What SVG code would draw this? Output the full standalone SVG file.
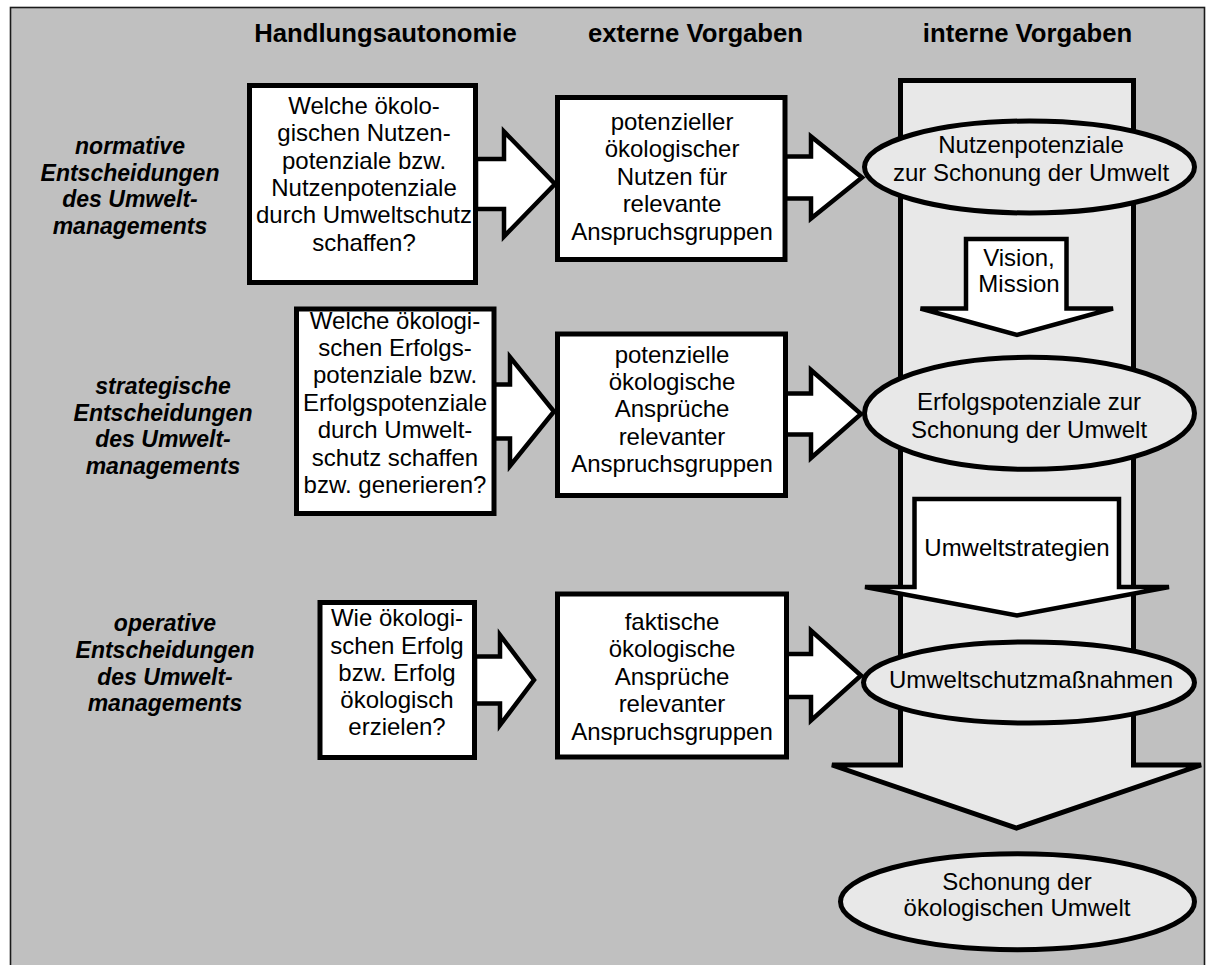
<svg xmlns="http://www.w3.org/2000/svg" width="1215" height="965" viewBox="0 0 1215 965">
  <style>
    .frame { fill: #c0c0c0; stroke: #1a1a1a; stroke-width: 1.6; }
    .box { fill: #ffffff; stroke: #000000; stroke-width: 5; }
    .ell { fill: #e8e8e8; stroke: #000000; stroke-width: 5; }
    .col { fill: #e8e8e8; stroke: #000000; stroke-width: 5; stroke-linejoin: miter; }
    .arrow { fill: #ffffff; stroke: #000000; stroke-width: 4.5; stroke-linejoin: miter; }
    text { font-family: "Liberation Sans", Arial, sans-serif; fill: #000000; text-anchor: middle; }
    .t { font-size: 24px; }
    .h { font-size: 25.7px; font-weight: bold; }
    .lbl { font-size: 23px; font-weight: bold; font-style: italic; }
  </style>

  <!-- background panel -->
  <rect class="frame" x="10.5" y="7.5" width="1194" height="970"/>

  <!-- column headings -->
  <g id="headings">
    <text class="h" x="385.5" y="42">Handlungsautonomie</text>
    <text class="h" x="695.5" y="42">externe Vorgaben</text>
    <text class="h" x="1027.5" y="42">interne Vorgaben</text>
  </g>

  <!-- row labels -->
  <g id="label-normativ">
    <text class="lbl" x="130" y="154">normative</text>
    <text class="lbl" x="130" y="180.7">Entscheidungen</text>
    <text class="lbl" x="130" y="207.3">des Umwelt-</text>
    <text class="lbl" x="130" y="234">managements</text>
  </g>
  <g id="label-strategisch">
    <text class="lbl" x="163" y="394">strategische</text>
    <text class="lbl" x="163" y="420.7">Entscheidungen</text>
    <text class="lbl" x="163" y="447.3">des Umwelt-</text>
    <text class="lbl" x="163" y="474">managements</text>
  </g>
  <g id="label-operativ">
    <text class="lbl" x="165" y="631">operative</text>
    <text class="lbl" x="165" y="658">Entscheidungen</text>
    <text class="lbl" x="165" y="684.7">des Umwelt-</text>
    <text class="lbl" x="165" y="711.3">managements</text>
  </g>

  <!-- large downward arrow carrying the internal targets -->
  <g id="interne-vorgaben">
    <polygon class="col" points="900.5,80.5 1133.5,80.5 1133.5,765 1201,765 1016.5,828 832,765 900.5,765"/>
  </g>

  <!-- block arrows -->
  <g id="connectors">
    <polygon id="pfeil-n1" class="arrow" points="476,159 504,159 504,131.5 555,184 504,236.5 504,209 476,209"/>
    <polygon id="pfeil-n2" class="arrow" points="785,156.5 811,156.5 811,136.5 862,177.5 811,218.5 811,198.5 785,198.5"/>
    <polygon id="pfeil-s1" class="arrow" points="494,384.5 510,384.5 510,357 554,411.5 510,466 510,438.5 494,438.5"/>
    <polygon id="pfeil-s2" class="arrow" points="785,393.5 811,393.5 811,370 861,414 811,458 811,434.5 785,434.5"/>
    <polygon id="pfeil-o1" class="arrow" points="475,656.5 500,656.5 500,635 534,680 500,725 500,703.5 475,703.5"/>
    <polygon id="pfeil-o2" class="arrow" points="786,654 811,654 811,630.5 861,675.5 811,720.5 811,697 786,697"/>
    <g id="pfeil-vision">
      <polygon class="arrow" points="966,239 1066.5,239 1066.5,308.5 1113,308.5 1017,335 920.5,308.5 966,308.5"/>
      <text class="t" x="1019" y="266.3">Vision,</text>
      <text class="t" x="1019" y="292">Mission</text>
    </g>
    <g id="pfeil-strategien">
      <polygon class="arrow" points="914.5,499 1119,499 1119,587 1169,587 1017,615.5 865,587 914.5,587"/>
      <text class="t" x="1017" y="556.3">Umweltstrategien</text>
    </g>
  </g>

  <!-- Handlungsautonomie -->
  <g id="frage-normativ">
    <rect class="box" x="249.5" y="85.5" width="226" height="197"/>
    <text class="t" x="364" y="114">Welche ökolo-</text>
    <text class="t" x="364" y="141.3">gischen Nutzen-</text>
    <text class="t" x="364" y="168.6">potenziale bzw.</text>
    <text class="t" x="364" y="195.9">Nutzenpotenziale</text>
    <text class="t" x="364" y="223.2">durch Umweltschutz</text>
    <text class="t" x="364" y="250.5">schaffen?</text>
  </g>
  <g id="frage-strategisch">
    <rect class="box" x="296.5" y="309" width="197.5" height="204.5"/>
    <text class="t" x="395" y="328.5">Welche ökologi-</text>
    <text class="t" x="395" y="355.9">schen Erfolgs-</text>
    <text class="t" x="395" y="383.3">potenziale bzw.</text>
    <text class="t" x="395" y="410.7">Erfolgspotenziale</text>
    <text class="t" x="395" y="438.1">durch Umwelt-</text>
    <text class="t" x="395" y="465.5">schutz schaffen</text>
    <text class="t" x="395" y="492.9">bzw. generieren?</text>
  </g>
  <g id="frage-operativ">
    <rect class="box" x="320" y="602.5" width="154.5" height="155"/>
    <text class="t" x="397" y="626.3">Wie ökologi-</text>
    <text class="t" x="397" y="653.5">schen Erfolg</text>
    <text class="t" x="397" y="680.7">bzw. Erfolg</text>
    <text class="t" x="397" y="707.9">ökologisch</text>
    <text class="t" x="397" y="735.1">erzielen?</text>
  </g>

  <!-- externe Vorgaben -->
  <g id="extern-normativ">
    <rect class="box" x="557.5" y="97.5" width="227.5" height="162"/>
    <text class="t" x="672" y="129.7">potenzieller</text>
    <text class="t" x="672" y="157.2">ökologischer</text>
    <text class="t" x="672" y="184.7">Nutzen für</text>
    <text class="t" x="672" y="212.2">relevante</text>
    <text class="t" x="672" y="239.7">Anspruchsgruppen</text>
  </g>
  <g id="extern-strategisch">
    <rect class="box" x="557.5" y="334" width="228" height="161.5"/>
    <text class="t" x="672" y="363">potenzielle</text>
    <text class="t" x="672" y="390.2">ökologische</text>
    <text class="t" x="672" y="417.4">Ansprüche</text>
    <text class="t" x="672" y="444.6">relevanter</text>
    <text class="t" x="672" y="471.8">Anspruchsgruppen</text>
  </g>
  <g id="extern-operativ">
    <rect class="box" x="557.5" y="594" width="229" height="163"/>
    <text class="t" x="672" y="630">faktische</text>
    <text class="t" x="672" y="657.4">ökologische</text>
    <text class="t" x="672" y="684.8">Ansprüche</text>
    <text class="t" x="672" y="712.2">relevanter</text>
    <text class="t" x="672" y="739.6">Anspruchsgruppen</text>
  </g>

  <!-- interne Vorgaben -->
  <g id="nutzenpotenziale">
    <ellipse class="ell" cx="1029.5" cy="167" rx="165" ry="46"/>
    <text class="t" x="1031" y="153">Nutzenpotenziale</text>
    <text class="t" x="1031" y="181.3">zur Schonung der Umwelt</text>
  </g>
  <g id="erfolgspotenziale">
    <ellipse class="ell" cx="1029.5" cy="413.3" rx="165" ry="56"/>
    <text class="t" x="1029" y="409.7">Erfolgspotenziale zur</text>
    <text class="t" x="1029" y="438">Schonung der Umwelt</text>
  </g>
  <g id="massnahmen">
    <ellipse class="ell" cx="1029" cy="682.5" rx="165.5" ry="40.5"/>
    <text class="t" x="1031" y="688">Umweltschutzmaßnahmen</text>
  </g>
  <g id="schonung">
    <ellipse class="ell" cx="1017.5" cy="901.7" rx="177" ry="48"/>
    <text class="t" x="1017" y="889.7">Schonung der</text>
    <text class="t" x="1017" y="916">ökologischen Umwelt</text>
  </g>
</svg>
